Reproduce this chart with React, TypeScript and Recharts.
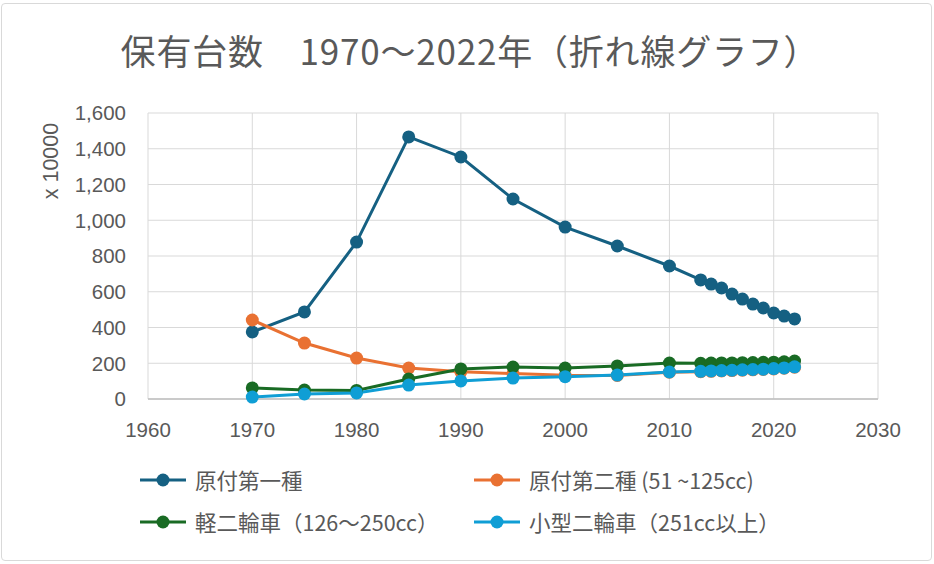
import React from 'react';
import { LineChart, Line, XAxis, YAxis, CartesianGrid } from 'recharts';

const years = [1970, 1975, 1980, 1985, 1990, 1995, 2000, 2005, 2010, 2013, 2014, 2015, 2016, 2017, 2018, 2019, 2020, 2021, 2022];
const gentsuki1 = [375, 487, 878, 1466, 1354, 1119, 962, 856, 744, 666, 643, 621, 587, 559, 531, 509, 481, 464, 448];
const gentsuki2 = [442, 313, 229, 173, 152, 142, 133, 132, 150, 153, 155, 157, 159, 161, 163, 165, 168, 172, 178];
const keiNirin = [62, 50, 48, 112, 168, 179, 173, 185, 201, 200, 201, 202, 202, 203, 204, 205, 206, 208, 212];
const kogataNirin = [11, 28, 34, 78, 101, 117, 125, 134, 151, 155, 157, 159, 161, 163, 165, 167, 170, 174, 180];

const seriesNames = ['原付第一種', '原付第二種 (51 ~125cc)', '軽二輪車（126～250cc）', '小型二輪車（251cc以上）'];
const seriesKeys = ['g1', 'g2', 'kei', 'kogata'];
const seriesColors = ['#156082', '#E97132', '#196B24', '#0F9ED5'];
const xTicks = [1960, 1970, 1980, 1990, 2000, 2010, 2020, 2030];
const yTicks = [0, 200, 400, 600, 800, 1000, 1200, 1400, 1600];
const title = '保有台数　1970～2022年（折れ線グラフ）';
const yLabel = 'x 10000';

const data = years.map((y, i) => ({
  year: y,
  g1: gentsuki1[i],
  g2: gentsuki2[i],
  kei: keiNirin[i],
  kogata: kogataNirin[i],
}));

const TICK_FONT = '"Liberation Sans", Arial, sans-serif';
const CJK_FONT = '"Noto Sans CJK JP", "Noto Sans", sans-serif';

function LegendItem({ name, color }: { name: string; color: string }) {
  return (
    <div style={{ display: 'flex', alignItems: 'center', whiteSpace: 'nowrap' }}>
      <svg width={46} height={16} style={{ marginRight: 9 }}>
        <line x1={0} y1={8} x2={46} y2={8} stroke={color} strokeWidth={3} />
        <circle cx={23} cy={8} r={6.5} fill={color} />
      </svg>
      <span>{name}</span>
    </div>
  );
}

export default function App() {
  return (
    <div
      style={{
        position: 'absolute',
        left: 0,
        top: 0,
        width: 934,
        height: 564,
        background: '#fff',
        overflow: 'hidden',
      }}
    >
      <div
        style={{
          position: 'absolute',
          left: 1,
          top: 3,
          width: 929,
          height: 556,
          border: '1px solid #d9d9d9',
          borderRadius: 4,
        }}
      />
      <div
        style={{
          position: 'absolute',
          left: 8,
          top: 25,
          width: 924,
          textAlign: 'center',
          fontFamily: CJK_FONT,
          fontSize: 35,
          letterSpacing: 0.8,
          color: '#595959',
          lineHeight: '50px',
        }}
      >
        {title}
      </div>
      <div style={{ position: 'absolute', left: 0, top: 0 }}>
        <LineChart
          width={934}
          height={564}
          data={data}
          margin={{ top: 113, right: 56, bottom: 135, left: 88 }}
        >
          <CartesianGrid stroke="#d9d9d9" strokeWidth={1} />
          <XAxis
            dataKey="year"
            type="number"
            domain={[1960, 2030]}
            ticks={xTicks}
            height={30}
            tickLine={false}
            tickSize={0}
            tickMargin={23}
            axisLine={{ stroke: '#bfbfbf', strokeWidth: 1.5 }}
            tick={{ fill: '#595959', fontSize: 20.5, fontFamily: TICK_FONT }}
            interval={0}
          />
          <YAxis
            type="number"
            domain={[0, 1600]}
            ticks={yTicks}
            width={60}
            tickLine={false}
            axisLine={false}
            tickSize={0}
            tickMargin={22}
            interval={0}
            tickFormatter={(v: number) => v.toLocaleString('en-US')}
            tick={{ fill: '#595959', fontSize: 20.5, fontFamily: TICK_FONT }}
            label={{
              content: () => (
                <text
                  x={58}
                  y={161}
                  transform="rotate(-90 58 161)"
                  textAnchor="middle"
                  fill="#595959"
                  fontSize={21.5}
                  fontFamily={TICK_FONT}
                >
                  {yLabel}
                </text>
              ),
            }}
          />
          {seriesKeys.map((k, i) => (
            <Line
              key={k}
              dataKey={k}
              name={seriesNames[i]}
              stroke={seriesColors[i]}
              strokeWidth={3}
              dot={{ r: 6.5, fill: seriesColors[i], stroke: seriesColors[i], strokeWidth: 0 }}
              activeDot={false}
              isAnimationActive={false}
            />
          ))}
        </LineChart>
      </div>
      <div
        style={{
          position: 'absolute',
          left: 140,
          top: 465,
          display: 'grid',
          gridTemplateColumns: '334px 360px',
          rowGap: 13,
          fontFamily: CJK_FONT,
          fontSize: 21.5,
          color: '#595959',
          lineHeight: '29px',
        }}
      >
        {seriesNames.map((n, i) => (
          <LegendItem key={n} name={n} color={seriesColors[i]} />
        ))}
      </div>
    </div>
  );
}
